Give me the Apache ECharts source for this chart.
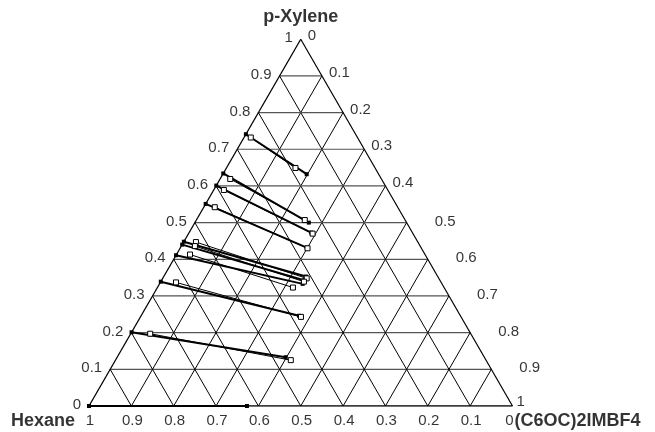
<!DOCTYPE html>
<html>
<head>
<meta charset="utf-8">
<script src="https://cdn.jsdelivr.net/npm/echarts@6/dist/echarts.min.js"></script>
<style>html,body{margin:0;padding:0;background:#fff}#c{width:655px;height:432px}</style>
</head>
<body>
<div id="c"></div>
<script>
// Compositions given as [p-Xylene fraction, (C6OC)2IMBF4 fraction]
const expHexanePhase = [[0.741,0.000],[0.634,0.000],[0.601,0.000],[0.551,0.000],[0.448,0.000],[0.440,0.000],[0.411,0.000],[0.339,0.000],[0.201,0.000],[0.000,0.000]];
const expILPhase     = [[0.632,0.198],[0.500,0.269],[0.473,0.288],[0.432,0.298],[0.353,0.336],[0.343,0.336],[0.333,0.338],[0.246,0.373],[0.133,0.398],[0.000,0.373]];
const calcHexanePhase = [[0.732,0.016],[0.619,0.024],[0.589,0.024],[0.542,0.026],[0.447,0.029],[0.436,0.032],[0.413,0.032],[0.337,0.037],[0.197,0.046]];
const calcILPhase     = [[0.649,0.163],[0.507,0.256],[0.470,0.293],[0.430,0.301],[0.348,0.340],[0.339,0.338],[0.323,0.320],[0.243,0.379],[0.125,0.414]];
const ticks = [0,0.1,0.2,0.3,0.4,0.5,0.6,0.7,0.8,0.9,1];
const tickLabels = ['0','0.1','0.2','0.3','0.4','0.5','0.6','0.7','0.8','0.9','1'];
const titleTop = 'p-Xylene', titleLeft = 'Hexane', titleRight = '(C6OC)2IMBF4';

const SQ = Math.sqrt(3) / 2;
function xy(p, il) { return [il + p / 2, p * SQ]; }

const series = [];
function seg(a, b, color, width) {
  series.push({type:'line', data:[xy(a[0],a[1]), xy(b[0],b[1])], symbol:'none', silent:true,
    lineStyle:{color:color, width:width}, z:1});
}
// grid
for (let k = 1; k < 10; k++) {
  const t = ticks[k];
  seg([t,0],[t,1-t],'#555',1.2);          // constant p-Xylene
  seg([0,t],[1-t,t],'#000',1);            // constant IL
  seg([0,1-t],[1-t,0],'#000',1);          // constant Hexane
}
seg([0,0],[0,1],'#000',1.5);
seg([0,1],[1,0],'#000',1.2);
seg([1,0],[0,0],'#000',1.3);

// tie lines
expHexanePhase.forEach((a, i) => {
  const b = expILPhase[i];
  series.push({type:'line', data:[xy(a[0],a[1]), xy(b[0],b[1])], symbol:'rect', symbolSize:4,
    itemStyle:{color:'#000'}, lineStyle:{color:'#000', width:2}, z:3});
});
calcHexanePhase.forEach((a, i) => {
  const b = calcILPhase[i];
  series.push({type:'line', data:[xy(a[0],a[1]), xy(b[0],b[1])], symbol:'rect', symbolSize:5,
    itemStyle:{color:'#fff', borderColor:'#000', borderWidth:1}, lineStyle:{color:'#000', width:1}, z:4});
});

// labels
const F = 'Liberation Sans, Arial, sans-serif';
const lab = [];
function L(p, il, text, pos, align, size, bold) {
  lab.push({value: xy(p, il), label:{show:true, formatter:text, position:pos, align:align, verticalAlign:'middle',
    fontSize:size||15, fontWeight:bold?'bold':'normal', fontFamily:F, color:'#000'}});
}
ticks.forEach((t, i) => {
  L(t, 0, tickLabels[i], [-8, -1], 'right');            // p-Xylene, left edge
  const rp = i === 10 ? [4, -4] : (i >= 5 ? [28, -1] : [7, -3]);
  L(1 - t, t, tickLabels[i], rp, 'left');               // IL, right edge
  L(0, 1 - t, tickLabels[i], i === 0 ? [-3, 15] : [1, 15], 'center'); // Hexane = t, bottom
});
L(1, 0, titleTop, [0, -22], 'center', 18, true);
L(0, 0, titleLeft, [-14, 15], 'right', 18, true);
L(0, 1, titleRight, [2, 15], 'left', 18, true);
series.push({type:'scatter', data:lab, symbolSize:0, silent:true, z:5});

const chart = echarts.init(document.getElementById('c'), null, {renderer:'canvas'});
chart.setOption({
  animation:false,
  grid:{left:89, top:406 - SQ * 423.5, width:423.5, height:SQ * 423.5},
  xAxis:{type:'value', min:0, max:1, show:false},
  yAxis:{type:'value', min:0, max:SQ, show:false},
  series: series
});
</script>
</body>
</html>
